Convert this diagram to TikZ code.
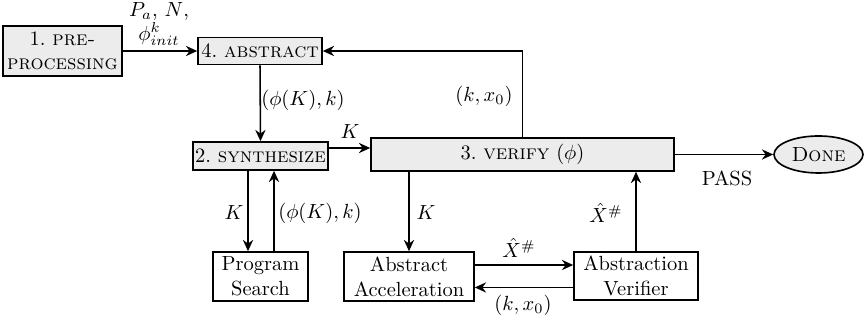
\documentclass[tikz,border=0pt]{standalone}
\usetikzlibrary{arrows.meta,shapes.geometric}
\begin{document}
\begin{tikzpicture}[x=0.488pt,y=-0.488pt,
  every node/.style={inner sep=1pt},
  box/.style={draw,line width=0.8pt,align=center,inner sep=1pt},
  gbox/.style={box,fill=gray!15},
  arr/.style={line width=0.75pt,-{Stealth[length=5.5pt,width=5pt,inset=1.8pt]}},
  ln/.style={line width=0.75pt}]
\useasboundingbox (0,0) rectangle (867,321);
% nodes
\node[gbox,minimum width={119*0.488pt},minimum height={50*0.488pt}] (pre) at (62.5,51) {1.~\textsc{pre-}\\\textsc{processing}};
\node[gbox,minimum width={124*0.488pt},minimum height={27*0.488pt}] (abs) at (260,51) {4.~\textsc{abstract}};
\node[gbox,minimum width={135*0.488pt},minimum height={28*0.488pt}] (syn) at (260.5,156) {2.~\textsc{synthesize}};
\node[gbox,minimum width={303*0.488pt},minimum height={33*0.488pt}] (ver) at (522.5,154.5) {3.~\textsc{verify}~$(\phi)$};
\node[draw,ellipse,line width=0.8pt,fill=gray!15,minimum width={89*0.488pt},minimum height={37*0.488pt},inner sep=0pt] (done) at (818.5,154.5) {\textsc{Done}};
\node[box,minimum width={95*0.488pt},minimum height={49*0.488pt}] (ps) at (260.5,276.5) {Program\\Search};
\node[box,minimum width={130*0.488pt},minimum height={49*0.488pt}] (aa) at (409,276.5) {Abstract\\Acceleration};
\node[box,minimum width={124*0.488pt},minimum height={48*0.488pt}] (av) at (636,276) {Abstraction\\Verifier};
% connectors
\draw[arr] (pre.east) -- (pre.east -| abs.west);
\node[align=center] (lin) at (159,24) {$P_a$, $N$,\\[-0.5pt]$\phi^k_{init}$};
\draw[arr] (abs.south) -- (syn.north);
\node (l1) at (303,100) {$(\phi(K),k)$};
\draw[arr] ([yshift=3.9pt]syn.east) -- ([yshift=3.9pt]syn.east -| ver.west);
\node (l2) at (350,132) {$K$};
\draw[arr] (ver.north) |- (abs.east);
\node (l3) at (484,96) {$(k,x_0)$};
\draw[arr] (ver.east) -- (done.west);
\node (l4) at (727,178) {PASS};
\draw[arr] ([xshift=-6.1pt]syn.south) -- ([xshift=-6.1pt]syn.south |- ps.north);
\node (l5) at (234,213) {$K$};
\draw[arr] ([xshift=6.6pt]syn.south |- ps.north) -- ([xshift=6.6pt]syn.south);
\node (l6) at (320,213) {$(\phi(K),k)$};
\draw[arr] (aa.north |- ver.south) -- (aa.north);
\node (l7) at (426,213) {$K$};
\draw[arr] ([yshift=5.6pt]aa.east) -- ([yshift=5.6pt]aa.east -| av.west);
\node (l8) at (519,248) {$\hat{X}^\#$};
\draw[arr] ([yshift=-5.6pt]av.west) -- ([yshift=-5.6pt]av.west -| aa.east);
\node (l9) at (523,305) {$(k,x_0)$};
\draw[arr] (av.north) -- (av.north |- ver.south);
\node (l10) at (606,213) {$\hat{X}^\#$};
\end{tikzpicture}
\end{document}
